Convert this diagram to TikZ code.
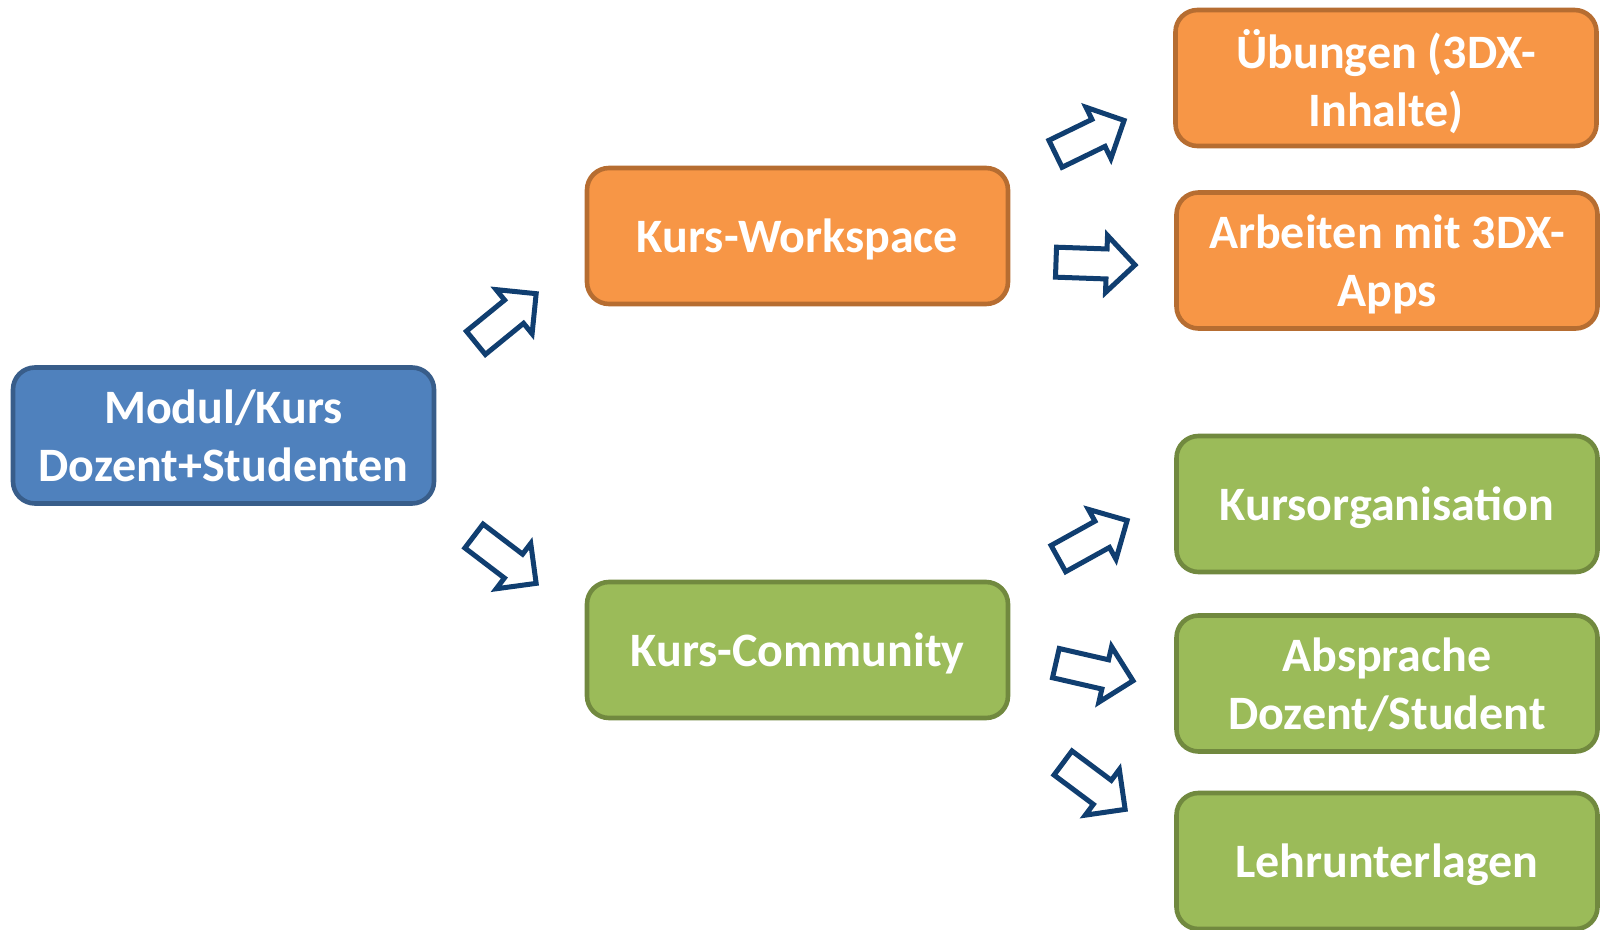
\documentclass[tikz,border=0pt]{standalone}
\usepackage{fontspec}
\setmainfont{Carlito}
\usetikzlibrary{shapes.arrows, calc}
\definecolor{blaufill}{HTML}{4F81BD}
\definecolor{blaurand}{HTML}{385D8A}
\definecolor{orangefill}{HTML}{F79646}
\definecolor{orangerand}{HTML}{B66D31}
\definecolor{gruenfill}{HTML}{9BBB59}
\definecolor{gruenrand}{HTML}{71893F}
\definecolor{pfeilblau}{RGB}{16,62,112}
\tikzset{
	x=0.5pt, y=-0.5pt,
	box/.style={rectangle, rounded corners=11pt, line width=2.3pt,
		minimum width=210.5pt, minimum height=68pt, align=center,
		text depth=0.3pt,
		text=white, font=\fontsize{24}{29}\selectfont\bfseries},
	blaubox/.style={box, fill=blaufill, draw=blaurand},
	orangebox/.style={box, fill=orangefill, draw=orangerand},
	gruenbox/.style={box, fill=gruenfill, draw=gruenrand},
	hohlpfeil/.style={single arrow, draw=pfeilblau, fill=white, line width=2.5pt,
		inner sep=6.25pt, single arrow head extend=6.75pt}}
% Blockpfeil vom ersten zum zweiten Punkt
\newcommand{\pfeil}[2]{%
	\path let \p1=($(#2)-(#1)$), \n1={atan2(\y1,\x1)}, \n2={veclen(\x1,\y1)} in
		node[hohlpfeil, rotate=\n1, anchor=tail, minimum height=\n2-3pt]
		at ($(#1)!1.25pt!(#2)$) {};}

\begin{document}
\begin{tikzpicture}
	\useasboundingbox (0,0) rectangle (1602,930);
	
	\node[blaubox] (modul) at (223.5,435.5) {Modul/Kurs\\Dozent+Studenten};
	
	\node[orangebox] (workspace) at (797.5,236) {Kurs-Workspace};
	\node[gruenbox] (community) at (797.5,650) {Kurs-Community};
	
	\node[orangebox] (uebungen) at (1386,78) {Übungen (3DX-\\Inhalte)};
	\node[orangebox] (arbeiten) at (1387,260.5) {Arbeiten mit 3DX-\\Apps};
	
	\node[gruenbox] (orga) at (1387,504) {Kursorganisation};
	\node[gruenbox] (absprache) at (1387,683.5) {Absprache\\Dozent/Student};
	\node[gruenbox] (lehr) at (1387,861) {Lehrunterlagen};
	
	% Pfeile
	\coordinate (p1a) at (472,346);  \coordinate (p1b) at (537,293);
	\coordinate (p2a) at (470,533);  \coordinate (p2b) at (537,584);
	\coordinate (p3a) at (1051,156); \coordinate (p3b) at (1125,120);
	\coordinate (p4a) at (1051,262); \coordinate (p4b) at (1136,265);
	\coordinate (p5a) at (1054,561); \coordinate (p5b) at (1128,520);
	\coordinate (p6a) at (1051,662); \coordinate (p6b) at (1134,681);
	\coordinate (p7a) at (1059,760); \coordinate (p7b) at (1126,810);
	
	\pfeil{p1a}{p1b}
	\pfeil{p2a}{p2b}
	\pfeil{p3a}{p3b}
	\pfeil{p4a}{p4b}
	\pfeil{p5a}{p5b}
	\pfeil{p6a}{p6b}
	\pfeil{p7a}{p7b}
\end{tikzpicture}
\end{document}
